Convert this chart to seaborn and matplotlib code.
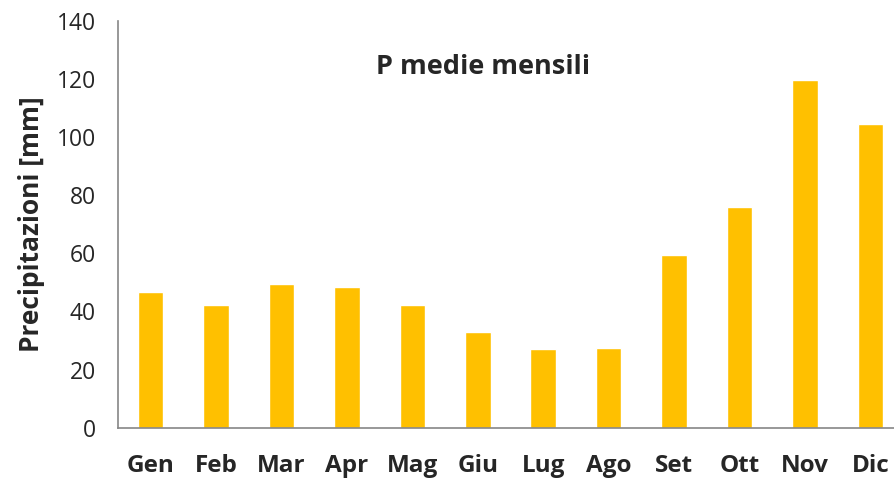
import numpy as np
import pandas as pd
import matplotlib
matplotlib.use("Agg")
import matplotlib.pyplot as plt
import seaborn as sns

# Dati: precipitazioni medie mensili
mesi = ["Gen", "Feb", "Mar", "Apr", "Mag", "Giu", "Lug", "Ago", "Set", "Ott", "Nov", "Dic"]
precipitazioni = [46.7, 42.2, 49.4, 48.4, 42.2, 32.8, 27.1, 27.4, 59.3, 75.8, 119.7, 104.4]

df = pd.DataFrame({"mese": mesi, "P": precipitazioni})

sns.set_style("white")
plt.rcParams["font.family"] = ["Open Sans", "DejaVu Sans"]

grigio = "#868686"

fig = plt.figure(figsize=(8.95, 4.79), dpi=100)
ax = fig.add_axes([118 / 895, 1 - 427.7 / 479, 785 / 895, 407 / 479])

sns.barplot(data=df, x="mese", y="P", color="#FFC000", width=0.39,
            saturation=1, ax=ax)

ax.set_xlim(-0.5, len(mesi) - 0.5)
ax.set_ylim(0, 140)
ax.set_yticks(np.arange(0, 141, 20))

# tacche tra le categorie
ax.set_xticks(np.arange(-0.5, len(mesi), 1), minor=True)
ax.tick_params(axis="x", which="major", length=0, pad=19, labelsize=17.5)
ax.tick_params(axis="x", which="minor", length=6, width=1.2, color=grigio, direction="out")
ax.tick_params(axis="y", length=6, width=1.2, color=grigio, direction="out",
               pad=10, labelsize=16.5)
for lab in ax.get_xticklabels():
    lab.set_fontweight("bold")

sns.despine(ax=ax, top=True, right=True)
ax.spines["left"].set_color(grigio)
ax.spines["bottom"].set_color(grigio)
ax.spines["left"].set_linewidth(1.2)
ax.spines["bottom"].set_linewidth(1.2)

ax.set_xlabel("")
ax.set_ylabel("Precipitazioni [mm]", fontsize=19, fontweight="bold", labelpad=8)
ax.text(0.4656, 0.869, "P medie mensili", transform=ax.transAxes, ha="center",
        va="baseline", fontsize=19.5, fontweight="bold")

fig.savefig("out.png", dpi=100)
